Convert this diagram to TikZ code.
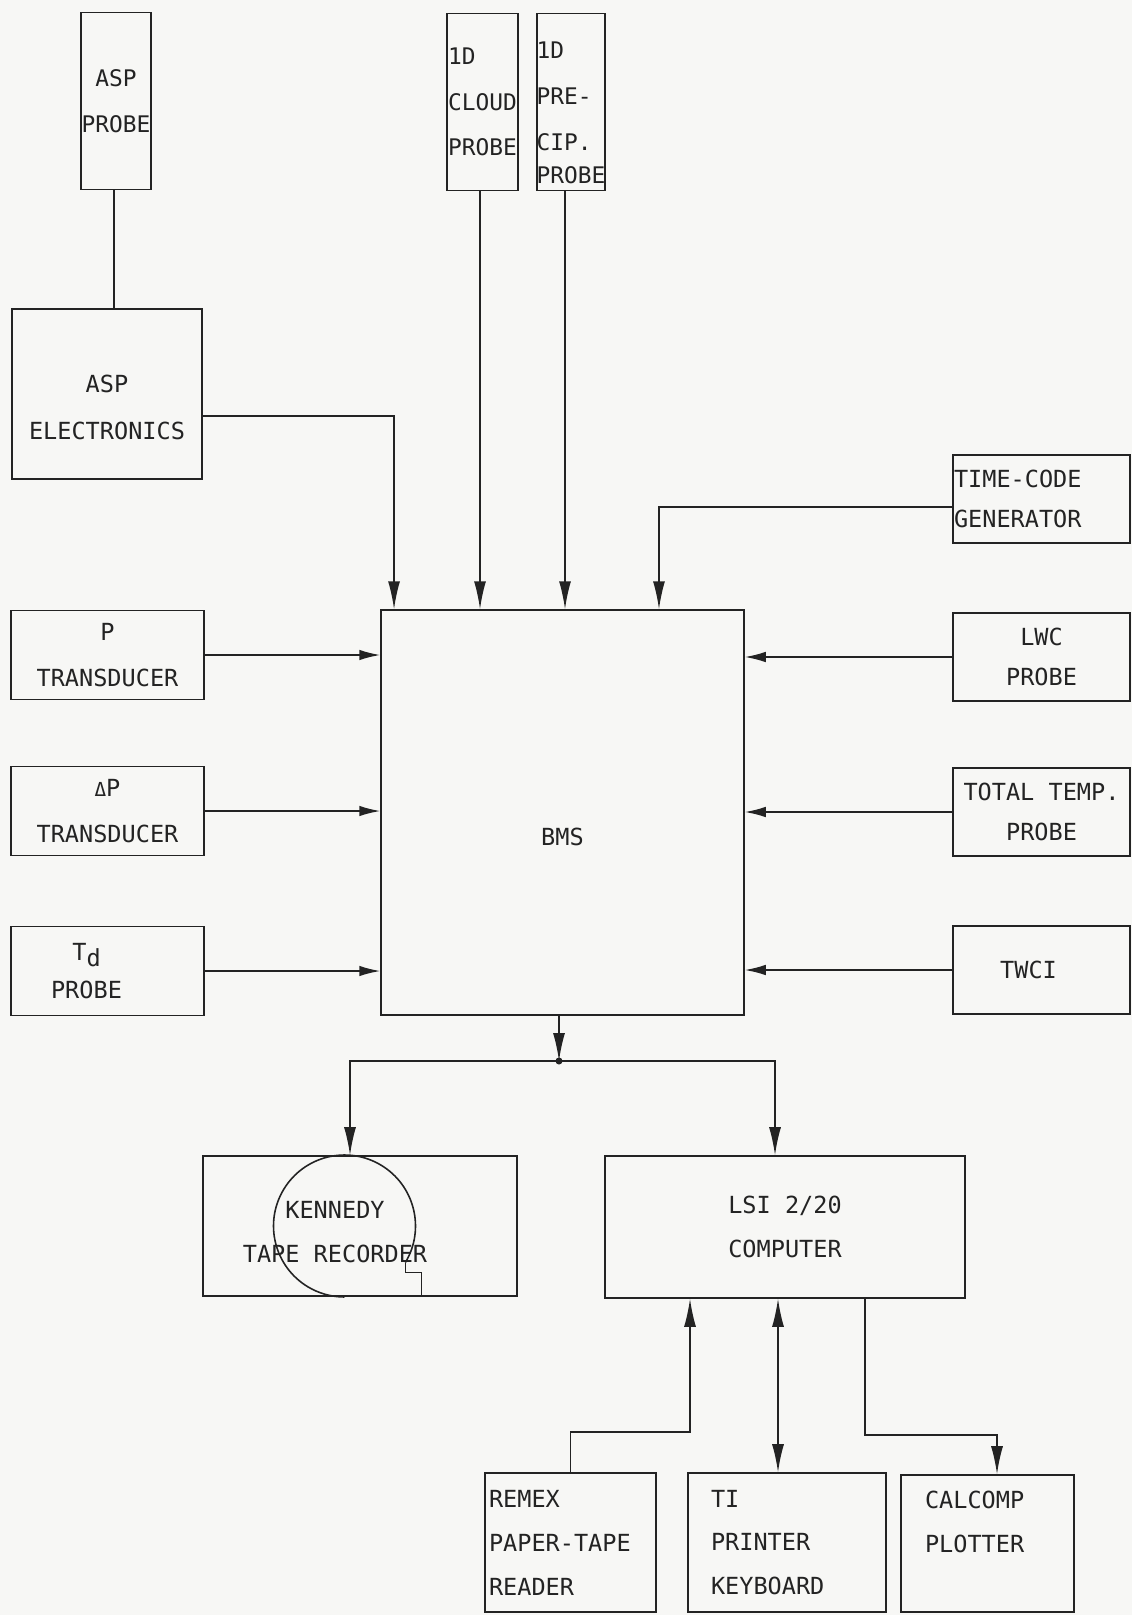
\documentclass[tikz,border=0pt]{standalone}
\usepackage{fontspec}
\setmonofont{DejaVu Sans Mono}
\usepackage{tikz}
\usetikzlibrary{arrows.meta,positioning}
\definecolor{paper}{RGB}{247,247,245}
\definecolor{ink}{RGB}{35,35,35}

\begin{document}
\begin{tikzpicture}[x=0.02cm,y=-0.02cm,font=\ttfamily\fontsize{13.4}{25}\selectfont,text=ink]
\tikzset{blk/.style={draw=ink,line width=0.9pt,align=center,inner sep=0pt},
  tallfont/.style={font=\ttfamily\fontsize{13}{26}\selectfont},
  tall/.style={blk,tallfont,minimum width=1.4cm,minimum height=3.54cm},
  lbox/.style={blk,minimum width=3.86cm,minimum height=1.78cm,font=\ttfamily\fontsize{13.4}{26.5}\selectfont},
  rbox/.style={blk,minimum width=3.54cm,minimum height=1.76cm,font=\ttfamily\fontsize{13.4}{23}\selectfont},
  outbox/.style={blk,minimum height=2.78cm,align=left},
  wire/.style={draw=ink,line width=0.9pt},
  sig/.style={wire,-{Latex[length=5.6mm,width=2.4mm]}},
  hsig/.style={wire,-{Latex[length=4.2mm,width=2.1mm]}},
  dsig/.style={wire,{Latex[length=5.6mm,width=2.4mm]}-{Latex[length=5.6mm,width=2.4mm]}}}
\useasboundingbox (0,0) rectangle (1132,1615);
\fill[paper] (0,0) rectangle (1132,1615);

\node[tall] (asp) at (116,101) {ASP\\PROBE};
\node[tall,align=left,minimum width=1.42cm] (cloud) at (482.5,102) {1D\\CLOUD\\PROBE};
\node[tall,minimum width=1.36cm,
  label={[tallfont,align=left,yshift=-0.22cm]center:1D\\PRE-\\CIP.\\[-7pt]PROBE}] (precip) at (571,102) {};
\node[blk,minimum width=3.8cm,minimum height=3.4cm,
  label={[align=center,yshift=-0.27cm,font=\ttfamily\fontsize{13.4}{26.5}\selectfont]center:ASP\\ELECTRONICS}] (aspe) at (107,394) {};
\node[rbox,align=left,text width=3.5cm] (tcg) at (1041.5,499) {TIME-CODE\\GENERATOR};

\node[blk,minimum width=7.26cm,minimum height=8.1cm,label={[yshift=-0.48cm]center:BMS}] (bms) at (562.5,812.5) {};
\node[lbox] (pt) at (107.5,655) {P\\TRANSDUCER};
\node[lbox] (dpt) at (107.5,811) {{\fontsize{11}{11}\selectfont Δ}P\\TRANSDUCER};
\node[lbox,label={[align=center,xshift=-0.42cm,font=\ttfamily\fontsize{13.4}{22}\selectfont]center:T\raisebox{-0.5ex}{d}\\PROBE}] (td) at (107.5,971) {};
\node[rbox] (lwc) at (1041.5,657) {LWC\\PROBE};
\node[rbox] (ttp) at (1041.5,812) {TOTAL TEMP.\\PROBE};
\node[rbox,label={[xshift=-0.26cm]center:TWCI}] (twci) at (1041.5,970) {};

\node[blk,minimum width=6.28cm,minimum height=2.8cm,
  label={[align=center,xshift=-0.5cm,yshift=-0.12cm]center:KENNEDY\\TAPE RECORDER}] (tape) at (360,1226) {};
\node[blk,minimum width=7.2cm,minimum height=2.84cm] (lsi) at (785,1227) {LSI 2/20\\COMPUTER};
\node[outbox,minimum width=3.42cm,text width=3.26cm] (remex) at (570.5,1542.5) {REMEX\\PAPER-TAPE\\READER};
\node[outbox,minimum width=3.96cm,text width=3.04cm] (ti) at (787,1542.5) {TI\\PRINTER\\KEYBOARD};
\node[outbox,minimum width=3.46cm,minimum height=2.74cm,text width=2.5cm] (calc) at (987.5,1543.5) {CALCOMP\\PLOTTER\\\mbox{}};

\coordinate (notch) at ([shift={(-31:1.42cm)}]344.5,1226);
\draw[wire] (notch) arc[start angle=-31,end angle=270,radius=1.42cm];
\draw[wire] (notch) -- ++(0,-0.2cm) -- ++(0.32cm,0) coordinate (foot) -- (foot |- tape.south);

\draw[wire] ([xshift=-0.04cm]asp.south) -- ([xshift=-0.04cm]asp.south |- aspe.north);
\draw[sig] ([yshift=-0.44cm]aspe.east) -| ([xshift=-3.37cm]bms.north);
\draw[sig] ([xshift=-0.05cm]cloud.south) -- ([xshift=-0.05cm]cloud.south |- bms.north);
\draw[sig] ([xshift=-0.12cm]precip.south) -- ([xshift=-0.12cm]precip.south |- bms.north);
\draw[sig] ([yshift=-0.16cm]tcg.west) -| ([xshift=1.93cm]bms.north);

\draw[hsig] (pt.east) -- (pt.east -| bms.west);
\draw[hsig] (dpt.east) -- (dpt.east -| bms.west);
\draw[hsig] (td.east) -- (td.east -| bms.west);
\draw[hsig] (lwc.west) -- (lwc.west -| bms.east);
\draw[hsig] (ttp.west) -- (ttp.west -| bms.east);
\draw[hsig] (twci.west) -- (twci.west -| bms.east);

\coordinate (split) at (559,1061);
\draw[sig] ([xshift=-0.07cm]bms.south) -- (split);
\fill[ink] (split) circle (2pt);
\draw[sig] (split) -| ([xshift=-0.2cm]tape.north);
\draw[sig] (split) -| ([xshift=-0.2cm]lsi.north);

\coordinate (rbend) at (690,1432);
\coordinate (cbend) at (865,1435);
\draw[sig] (remex.north) |- (rbend) -- (rbend |- lsi.south);
\draw[dsig] ([xshift=-0.18cm]ti.north) -- ([xshift=-0.18cm]ti.north |- lsi.south);
\draw[sig] (cbend |- lsi.south) -- (cbend) -| ([xshift=0.19cm]calc.north);
\end{tikzpicture}
\end{document}
